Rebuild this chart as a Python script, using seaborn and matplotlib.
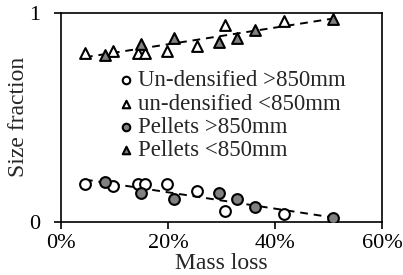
import numpy as np
import pandas as pd
import matplotlib
matplotlib.use("Agg")
import matplotlib.pyplot as plt
import seaborn as sns

# mass loss (%) and size fraction
undens_x = [4.5, 9.8, 14.4, 15.7, 19.8, 25.4, 30.7, 41.7]
undens_gt = [0.18, 0.17, 0.18, 0.18, 0.18, 0.15, 0.05, 0.04]
undens_lt = [0.81, 0.82, 0.81, 0.81, 0.82, 0.84, 0.94, 0.96]

pellet_x = [8.2, 14.9, 21.1, 29.5, 32.9, 36.3, 50.8]
pellet_gt = [0.19, 0.14, 0.11, 0.14, 0.11, 0.07, 0.02]
pellet_lt = [0.80, 0.85, 0.88, 0.86, 0.88, 0.92, 0.97]

labels = ["Un-densified >850mm", "un-densified <850mm", "Pellets >850mm", "Pellets <850mm"]

sns.set_style("ticks")
plt.rcParams["font.family"] = ["Liberation Serif", "DejaVu Serif"]

fig, ax = plt.subplots(figsize=(4.03, 2.75), dpi=100)
fig.subplots_adjust(left=0.151, right=0.948, top=0.953, bottom=0.193)

# dashed linear trend lines through both materials
all_x = np.array(undens_x + pellet_x) / 100
for ys in (undens_gt + pellet_gt, undens_lt + pellet_lt):
    k, b = np.polyfit(all_x, ys, 1)
    xx = np.array([all_x.min(), all_x.max()])
    ax.plot(xx, k * xx + b, color="black", lw=1.4, ls=(0, (4, 3)), zorder=1)

series = [
    (undens_x, undens_gt, "o", "white"),
    (undens_x, undens_lt, "^", "white"),
    (pellet_x, pellet_gt, "o", "#808080"),
    (pellet_x, pellet_lt, "^", "#808080"),
]
for (xs, ys, m, fc), lab in zip(series, labels):
    sns.scatterplot(x=np.array(xs) / 100, y=ys, marker=m, color=fc, edgecolor="black",
                    linewidth=1.5, s=60, label=lab, ax=ax, zorder=3)

ax.set_xlim(0, 0.6)
ax.set_ylim(0, 1)
ax.set_xticks([0, 0.2, 0.4, 0.6])
ax.set_xticklabels(["0%", "20%", "40%", "60%"])
ax.set_yticks([0, 1])
ax.set_yticklabels(["0", "1"])
ax.tick_params(labelsize=16, direction="out", length=5, width=1.2, colors="black")
ax.tick_params(axis="x", pad=4)
ax.tick_params(axis="y", pad=10)
ax.set_xlabel("Mass loss", fontsize=17, labelpad=0)
ax.set_ylabel("Size fraction", fontsize=17, labelpad=0)
for sp in ax.spines.values():
    sp.set_visible(True)
    sp.set_linewidth(1.2)
    sp.set_color("black")

leg = ax.legend(loc="upper left", bbox_to_anchor=(0.13, 0.78), frameon=False, fontsize=16.5,
                handletextpad=0.05, labelspacing=0.1, borderpad=0, handlelength=1.0,
                markerscale=0.7)

fig.savefig("out.png", dpi=100)
